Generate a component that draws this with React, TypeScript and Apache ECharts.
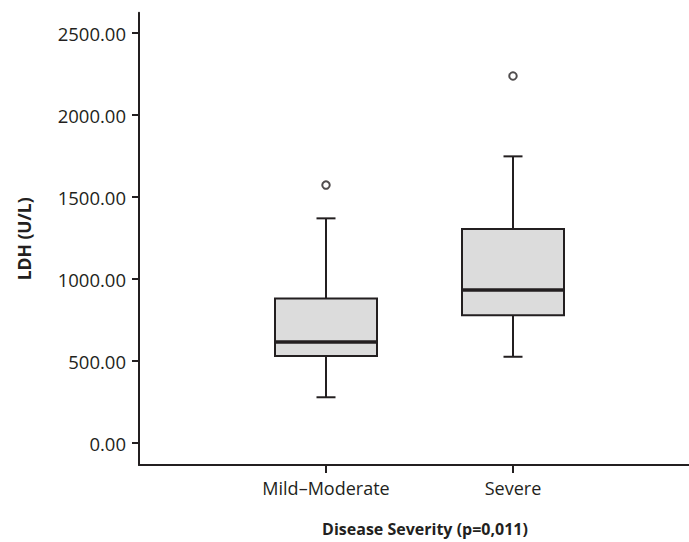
import React, { useEffect, useRef } from "react";
import * as echarts from "echarts";

const categories = ["Mild–Moderate", "Severe"];
const whiskerLow = [279, 526];
const q1 = [530, 779];
const median = [616, 933];
const q3 = [882, 1305];
const whiskerHigh = [1370, 1748];
const outlierGroup = [0, 1];
const outlierValue = [1573, 2238];
const yTicks = [0, 500, 1000, 1500, 2000, 2500];

const INK = "#231f20";
const FILL = "#dcdcdc";
const FONT = "'Open Sans', sans-serif";

export default function App() {
  const ref = useRef<HTMLDivElement>(null);

  useEffect(() => {
    document.body.style.margin = "0";
    if (!ref.current) return;
    const chart = echarts.init(ref.current, null, { renderer: "svg" });

    const boxData = categories.map((_, i) => [
      i + 1,
      whiskerLow[i],
      q1[i],
      median[i],
      q3[i],
      whiskerHigh[i],
    ]);
    const outlierData = outlierGroup.map((g, i) => [g + 1, outlierValue[i]]);

    const BOX_RATIO = 102 / 187;
    const CAP_RATIO = 19 / 187;

    chart.setOption({
      animation: false,
      grid: {
        left: 139,
        top: 12.7,
        bottom: 77,
        right: -11,
        containLabel: false,
        outerBoundsMode: "none",
      },
      xAxis: {
        type: "value",
        min: 0,
        max: 3,
        name: "Disease Severity (p=0,011)",
        nameLocation: "middle",
        nameGap: 56,
        nameTextStyle: {
          fontFamily: FONT,
          fontWeight: "bold",
          fontSize: 16,
          color: INK,
          padding: [0, 0, 0, 11],
        },
        axisLine: { onZero: false, lineStyle: { color: INK, width: 2 } },
        axisTick: {
          show: true,
          length: 8,
          customValues: [1, 2],
          lineStyle: { color: INK, width: 2 },
        },
        axisLabel: {
          customValues: [1, 2],
          formatter: (v: number) => categories[Math.round(v) - 1] ?? "",
          fontFamily: FONT,
          fontSize: 18,
          color: INK,
          margin: 14,
        },
        splitLine: { show: false },
      },
      yAxis: {
        type: "value",
        min: -134,
        max: 2624,
        name: "LDH (U/L)",
        nameLocation: "middle",
        nameGap: 106,
        nameRotate: 90,
        nameTextStyle: {
          fontFamily: FONT,
          fontWeight: "bold",
          fontSize: 17.5,
          color: INK,
        },
        axisLine: { show: true, onZero: false, lineStyle: { color: INK, width: 2 } },
        axisTick: {
          show: true,
          length: 7,
          customValues: yTicks,
          lineStyle: { color: INK, width: 2 },
        },
        axisLabel: {
          customValues: yTicks,
          formatter: (v: number) => v.toFixed(2),
          fontFamily: FONT,
          fontSize: 18.5,
          color: INK,
          margin: 13,
        },
        splitLine: { show: false },
      },
      series: [
        {
          type: "custom",
          data: boxData,
          renderItem: (params: any, api: any) => {
            const x = api.value(0);
            const band = api.size([1, 0])[0];
            const boxW = band * BOX_RATIO;
            const capW = band * CAP_RATIO;
            const pMin = api.coord([x, api.value(1)]);
            const pQ1 = api.coord([x, api.value(2)]);
            const pMed = api.coord([x, api.value(3)]);
            const pQ3 = api.coord([x, api.value(4)]);
            const pMax = api.coord([x, api.value(5)]);
            const cx = pMin[0];
            const st = { stroke: INK, lineWidth: 2, fill: "none" };
            return {
              type: "group",
              children: [
                { type: "line", shape: { x1: cx, y1: pMax[1], x2: cx, y2: pQ3[1] }, style: st },
                { type: "line", shape: { x1: cx, y1: pQ1[1], x2: cx, y2: pMin[1] }, style: st },
                { type: "line", shape: { x1: cx - capW / 2, y1: pMax[1], x2: cx + capW / 2, y2: pMax[1] }, style: st },
                { type: "line", shape: { x1: cx - capW / 2, y1: pMin[1], x2: cx + capW / 2, y2: pMin[1] }, style: st },
                {
                  type: "rect",
                  shape: { x: cx - boxW / 2, y: pQ3[1], width: boxW, height: pQ1[1] - pQ3[1] },
                  style: { fill: FILL, stroke: INK, lineWidth: 2 },
                },
                {
                  type: "line",
                  shape: { x1: cx - boxW / 2, y1: pMed[1], x2: cx + boxW / 2, y2: pMed[1] },
                  style: { stroke: INK, lineWidth: 3.5 },
                },
              ],
            };
          },
          z: 2,
        },
        {
          type: "scatter",
          data: outlierData,
          symbol: "circle",
          symbolSize: 7.5,
          itemStyle: { color: "#ffffff", borderColor: INK, borderWidth: 2 },
          z: 3,
        },
      ],
    });

    return () => chart.dispose();
  }, []);

  return <div ref={ref} style={{ width: 689, height: 542, background: "#ffffff" }} />;
}
